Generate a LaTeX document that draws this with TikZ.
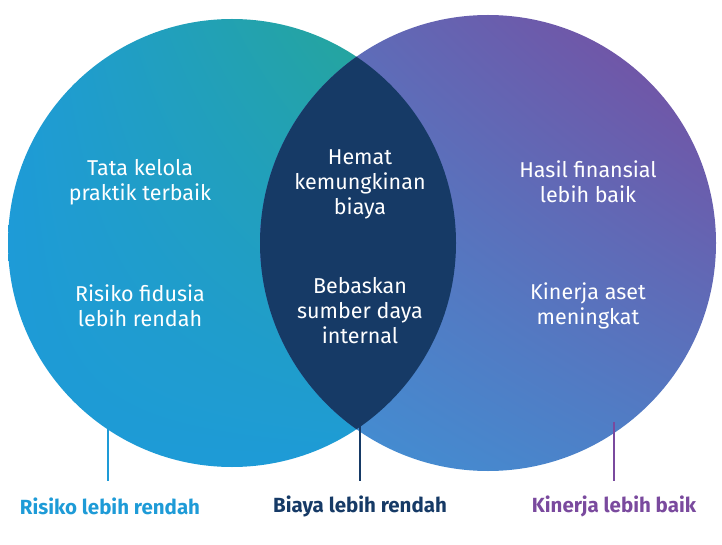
\documentclass[tikz,border=0pt]{standalone}
\usepackage{fontspec}
\setmainfont{Fira Sans}
\usetikzlibrary{shadings}
\begin{document}
\begin{tikzpicture}[x=1pt,y=-1pt,
  txt/.style={text=white,align=center,font=\fontsize{21.5}{25}\selectfont},
  lbl/.style={font=\bfseries\fontsize{20.5}{24}\selectfont},
  tick/.style={line width=1.3pt}]
\definecolor{cblue}{HTML}{1E9BD7}
\definecolor{cgreen}{HTML}{27A88A}
\definecolor{cpurp}{HTML}{7A4A9E}
\definecolor{cblue2}{HTML}{3E93D6}
\definecolor{navy}{HTML}{163A66}
\useasboundingbox (0,0) rectangle (722,545);
\coordinate (lc) at (232,243);
\coordinate (rc) at (488,243);
\shade[upper right=cgreen,upper left=cblue,lower left=cblue,lower right=cblue] (lc) circle (224);
\shade[upper right=cpurp,upper left=cblue2!55!cpurp,lower left=cblue2,lower right=cblue2!70!cpurp] (rc) circle (228);
\begin{scope}
\clip (lc) circle (224);
\fill[navy] (rc) circle (228);
\end{scope}
\node[txt] (a) at (140,182) {Tata kelola\\praktik terbaik};
\node[txt] (b) at (140,306) {Risiko fidusia\\lebih rendah};
\node[txt] (c) at (360,184) {Hemat\\kemungkinan\\biaya};
\node[txt] (d) at (360,311) {Bebaskan\\sumber daya\\internal};
\node[txt] (e) at (588,182) {Hasil finansial\\lebih baik};
\node[txt] (f) at (588,306) {Kinerja aset\\meningkat};
\node[lbl,text=cblue] (g) at (110,506) {Risiko lebih rendah};
\node[lbl,text=navy] (h) at (360,506) {Biaya lebih rendah};
\node[lbl,text=cpurp] (i) at (614,506) {Kinerja lebih baik};
\coordinate (g0) at (108,425); \coordinate (h0) at (360,422); \coordinate (i0) at (614,422);
\draw[tick,cblue] (g0) -- (108,481);
\draw[tick,navy] (h0) -- (360,481);
\draw[tick,cpurp] (i0) -- (614,481);
\end{tikzpicture}
\end{document}
